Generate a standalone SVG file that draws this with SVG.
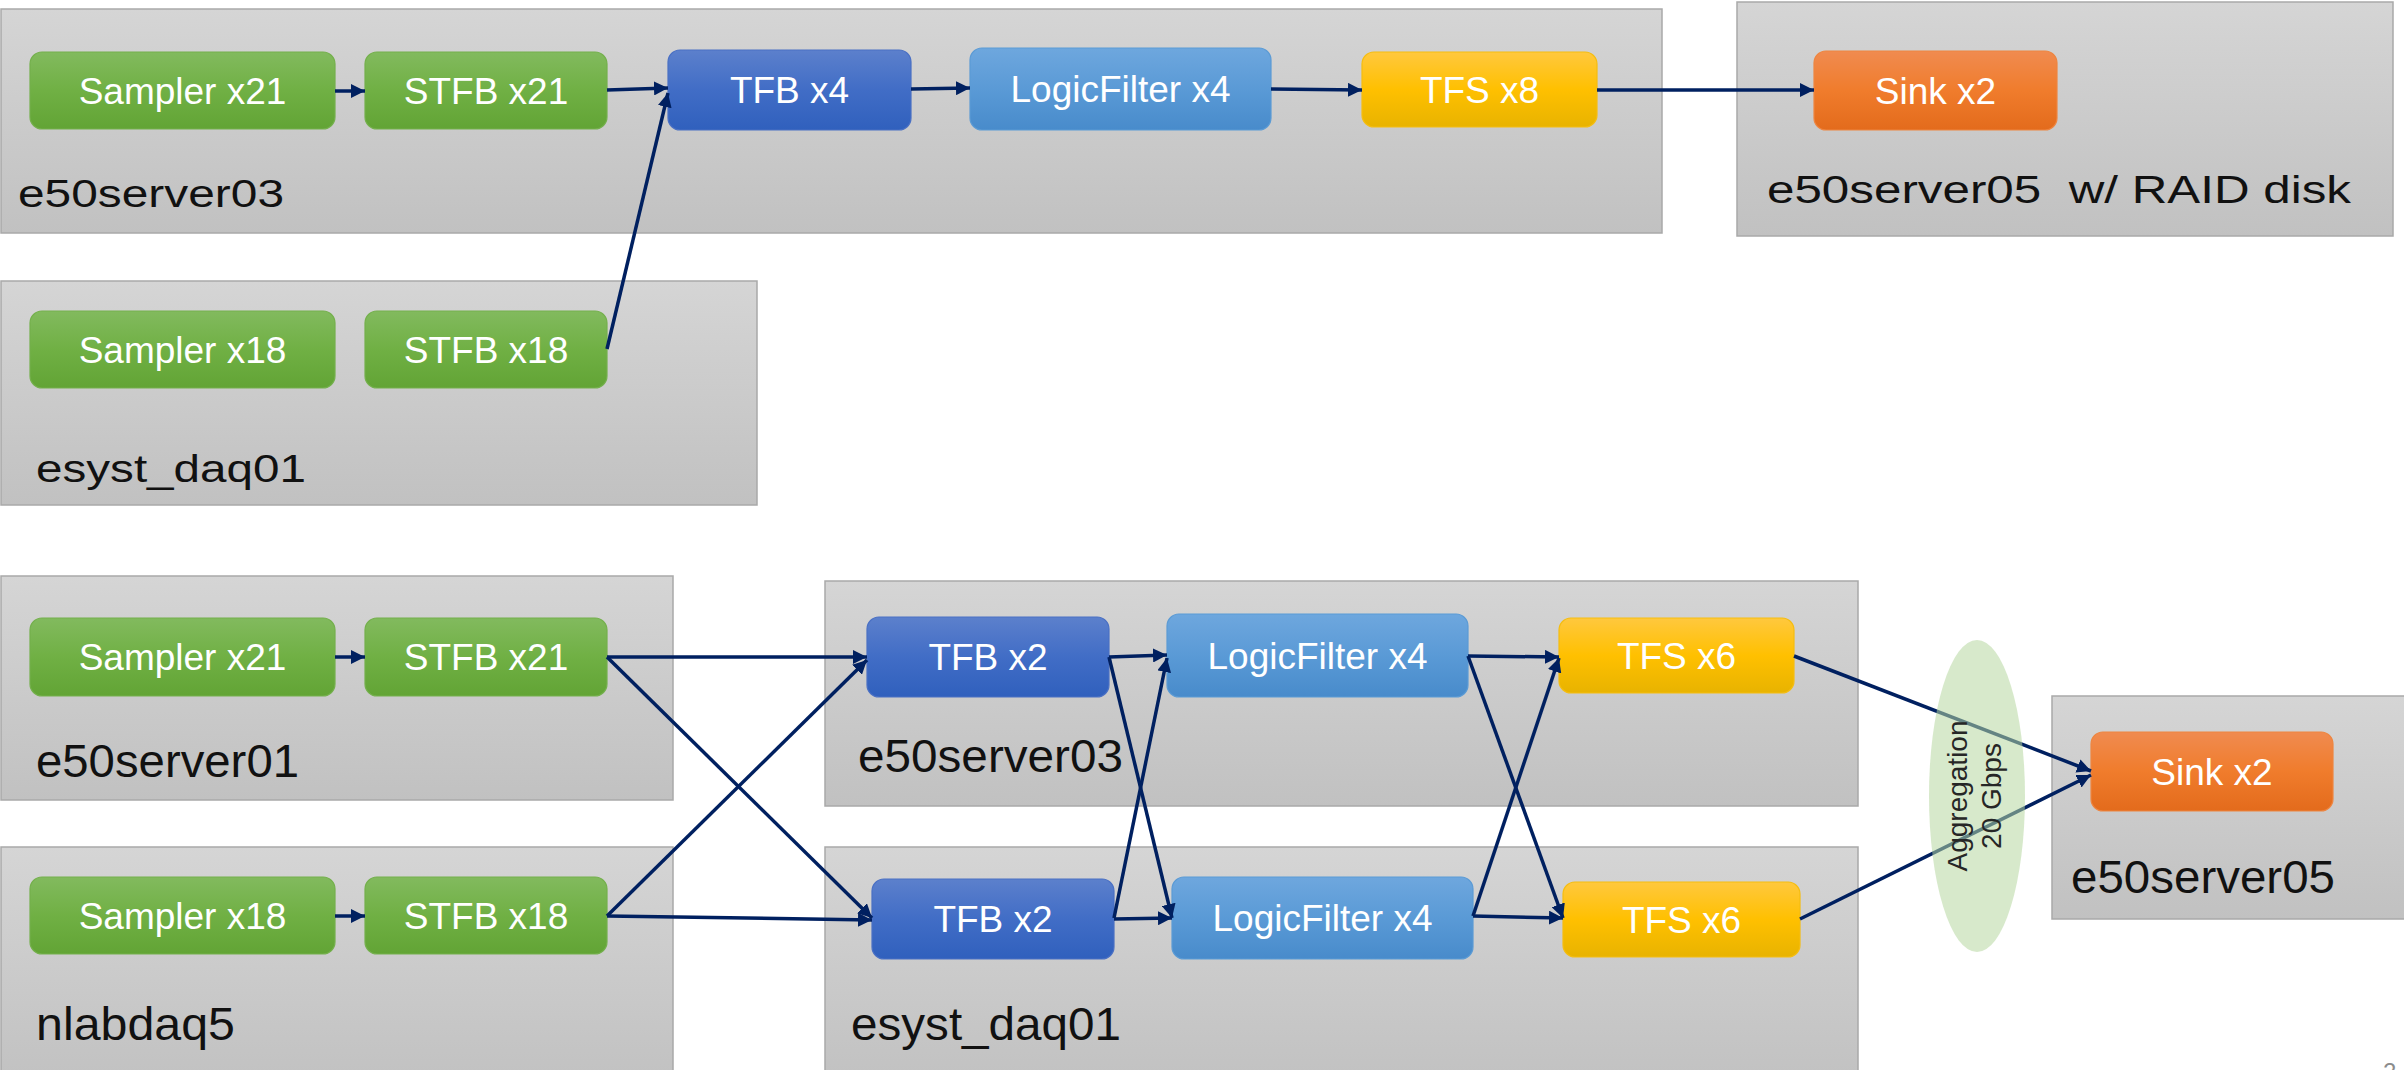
<svg xmlns="http://www.w3.org/2000/svg" width="2404" height="1070" viewBox="0 0 2404 1070">
  <style>
    .host { fill: url(#gHost); stroke: #a9a9a9; stroke-width: 1.5; }
    .hlabel { font-family: "Liberation Sans", Arial, sans-serif; fill: #111111; white-space: pre; }
    .hl-s { font-size: 38px; }
    .hl-l { font-size: 46px; }
    .node rect { stroke-width: 1.2; }
    .node text { font-family: "Liberation Sans", Arial, sans-serif; font-size: 37px; fill: #ffffff; text-anchor: middle; }
    .green rect { fill: url(#gGreen); stroke: #74b04c; }
    .tfb rect { fill: url(#gTfb); stroke: #4a70c4; }
    .lf rect { fill: url(#gLf); stroke: #5b9bd5; }
    .tfs rect { fill: url(#gTfs); stroke: #f5bd10; }
    .sink rect { fill: url(#gSink); stroke: #ee8540; }
    .conn line { stroke: #002060; stroke-width: 3.5; marker-end: url(#ah); }
    .agg text { font-family: "Liberation Sans", Arial, sans-serif; font-size: 28px; fill: #262626; text-anchor: middle; }
  </style>
  <defs>
    <linearGradient id="gHost" x1="0" y1="0" x2="0" y2="1">
      <stop offset="0" stop-color="#d5d5d5"/>
      <stop offset="1" stop-color="#c1c1c1"/>
    </linearGradient>
    <linearGradient id="gGreen" x1="0" y1="0" x2="0" y2="1">
      <stop offset="0" stop-color="#82ba5e"/>
      <stop offset="0.5" stop-color="#70b044"/>
      <stop offset="1" stop-color="#62a435"/>
    </linearGradient>
    <linearGradient id="gTfb" x1="0" y1="0" x2="0" y2="1">
      <stop offset="0" stop-color="#5c80cc"/>
      <stop offset="0.5" stop-color="#416dc6"/>
      <stop offset="1" stop-color="#3060bd"/>
    </linearGradient>
    <linearGradient id="gLf" x1="0" y1="0" x2="0" y2="1">
      <stop offset="0" stop-color="#6ea7de"/>
      <stop offset="0.5" stop-color="#5a9ad6"/>
      <stop offset="1" stop-color="#488bcb"/>
    </linearGradient>
    <linearGradient id="gTfs" x1="0" y1="0" x2="0" y2="1">
      <stop offset="0" stop-color="#ffc83e"/>
      <stop offset="0.5" stop-color="#ffc000"/>
      <stop offset="1" stop-color="#e8b300"/>
    </linearGradient>
    <linearGradient id="gSink" x1="0" y1="0" x2="0" y2="1">
      <stop offset="0" stop-color="#f08b50"/>
      <stop offset="0.5" stop-color="#f07c2c"/>
      <stop offset="1" stop-color="#e36b1c"/>
    </linearGradient>
    <marker id="ah" viewBox="0 0 10 10" refX="10" refY="5" markerWidth="4" markerHeight="4" orient="auto" markerUnits="strokeWidth">
      <path d="M0,0 L10,5 L0,10 z" fill="#002060"/>
    </marker>
  </defs>

  <!-- host machines -->
  <g id="hosts">
    <g id="host-top-e50server03">
      <rect class="host" x="1" y="9" width="1661" height="224"/>
      <text class="hlabel hl-s" x="18" y="207" textLength="266" lengthAdjust="spacingAndGlyphs">e50server03</text>
    </g>
    <g id="host-top-e50server05">
      <rect class="host" x="1737" y="2" width="656" height="234"/>
      <text class="hlabel hl-s" x="1767" y="203" textLength="584" lengthAdjust="spacingAndGlyphs">e50server05  w/ RAID disk</text>
    </g>
    <g id="host-top-esyst_daq01">
      <rect class="host" x="1" y="281" width="756" height="224"/>
      <text class="hlabel hl-s" x="36" y="482" textLength="270" lengthAdjust="spacingAndGlyphs">esyst_daq01</text>
    </g>
    <g id="host-e50server01">
      <rect class="host" x="1" y="576" width="672" height="224"/>
      <text class="hlabel hl-l" x="36" y="777" textLength="263" lengthAdjust="spacingAndGlyphs">e50server01</text>
    </g>
    <g id="host-nlabdaq5">
      <rect class="host" x="1" y="847" width="672" height="240"/>
      <text class="hlabel hl-l" x="36" y="1040" textLength="199" lengthAdjust="spacingAndGlyphs">nlabdaq5</text>
    </g>
    <g id="host-e50server03">
      <rect class="host" x="825" y="581" width="1033" height="225"/>
      <text class="hlabel hl-l" x="858" y="772" textLength="265" lengthAdjust="spacingAndGlyphs">e50server03</text>
    </g>
    <g id="host-esyst_daq01">
      <rect class="host" x="825" y="847" width="1033" height="240"/>
      <text class="hlabel hl-l" x="851" y="1040" textLength="270" lengthAdjust="spacingAndGlyphs">esyst_daq01</text>
    </g>
    <g id="host-e50server05">
      <rect class="host" x="2052" y="696" width="360" height="223"/>
      <text class="hlabel hl-l" x="2071" y="893" textLength="264" lengthAdjust="spacingAndGlyphs">e50server05</text>
    </g>
  </g>

  <!-- processes: upper chain -->
  <g id="t-sampler21" class="node green"><rect x="30" y="52" width="305" height="77" rx="12"/><text x="182.5" y="103.5">Sampler x21</text></g>
  <g id="t-stfb21" class="node green"><rect x="365" y="52" width="242" height="77" rx="12"/><text x="486" y="103.5">STFB x21</text></g>
  <g id="t-tfb4" class="node tfb"><rect x="668" y="50" width="243" height="80" rx="12"/><text x="789.5" y="103">TFB x4</text></g>
  <g id="t-lf4" class="node lf"><rect x="970" y="48" width="301" height="82" rx="12"/><text x="1120.5" y="102">LogicFilter x4</text></g>
  <g id="t-tfs8" class="node tfs"><rect x="1362" y="52" width="235" height="75" rx="12"/><text x="1479.5" y="102.5">TFS x8</text></g>
  <g id="t-sink2" class="node sink"><rect x="1814" y="51" width="243" height="79" rx="12"/><text x="1935.5" y="103.5">Sink x2</text></g>
  <g id="t-sampler18" class="node green"><rect x="30" y="311" width="305" height="77" rx="12"/><text x="182.5" y="362.5">Sampler x18</text></g>
  <g id="t-stfb18" class="node green"><rect x="365" y="311" width="242" height="77" rx="12"/><text x="486" y="362.5">STFB x18</text></g>

  <!-- processes: lower mesh -->
  <g id="b-sampler21" class="node green"><rect x="30" y="618" width="305" height="78" rx="12"/><text x="182.5" y="670">Sampler x21</text></g>
  <g id="b-stfb21" class="node green"><rect x="365" y="618" width="242" height="78" rx="12"/><text x="486" y="670">STFB x21</text></g>
  <g id="b-sampler18" class="node green"><rect x="30" y="877" width="305" height="77" rx="12"/><text x="182.5" y="928.5">Sampler x18</text></g>
  <g id="b-stfb18" class="node green"><rect x="365" y="877" width="242" height="77" rx="12"/><text x="486" y="928.5">STFB x18</text></g>
  <g id="b-tfb2a" class="node tfb"><rect x="867" y="617" width="242" height="80" rx="12"/><text x="988" y="670">TFB x2</text></g>
  <g id="b-lf4a" class="node lf"><rect x="1167" y="614" width="301" height="83" rx="12"/><text x="1317.5" y="668.5">LogicFilter x4</text></g>
  <g id="b-tfs6a" class="node tfs"><rect x="1559" y="618" width="235" height="75" rx="12"/><text x="1676.5" y="668.5">TFS x6</text></g>
  <g id="b-tfb2b" class="node tfb"><rect x="872" y="879" width="242" height="80" rx="12"/><text x="993" y="932">TFB x2</text></g>
  <g id="b-lf4b" class="node lf"><rect x="1172" y="877" width="301" height="82" rx="12"/><text x="1322.5" y="931">LogicFilter x4</text></g>
  <g id="b-tfs6b" class="node tfs"><rect x="1563" y="882" width="237" height="75" rx="12"/><text x="1681.5" y="932.5">TFS x6</text></g>
  <g id="b-sink2" class="node sink"><rect x="2091" y="732" width="242" height="79" rx="12"/><text x="2212" y="784.5">Sink x2</text></g>

  <!-- data flow -->
  <g id="connectors" class="conn">
    <line x1="335" y1="91" x2="365" y2="91"/>
    <line x1="607" y1="90" x2="668" y2="88"/>
    <line x1="607" y1="349" x2="668" y2="93"/>
    <line x1="911" y1="89" x2="970" y2="88"/>
    <line x1="1271" y1="89" x2="1362" y2="90"/>
    <line x1="1597" y1="90" x2="1814" y2="90"/>

    <line x1="335" y1="657" x2="365" y2="657"/>
    <line x1="335" y1="916" x2="365" y2="916"/>
    <line x1="607" y1="657" x2="867" y2="657"/>
    <line x1="607" y1="657" x2="872" y2="918"/>
    <line x1="607" y1="916" x2="867" y2="660"/>
    <line x1="607" y1="916" x2="872" y2="920"/>
    <line x1="1109" y1="657" x2="1167" y2="655"/>
    <line x1="1109" y1="657" x2="1172" y2="918"/>
    <line x1="1114" y1="918" x2="1167" y2="658"/>
    <line x1="1114" y1="919" x2="1172" y2="918"/>
    <line x1="1468" y1="656" x2="1559" y2="657"/>
    <line x1="1468" y1="656" x2="1563" y2="918"/>
    <line x1="1473" y1="916" x2="1559" y2="658"/>
    <line x1="1473" y1="916" x2="1563" y2="918"/>
    <line x1="1794" y1="656" x2="2091" y2="771"/>
    <line x1="1800" y1="919" x2="2091" y2="775"/>
  </g>

  <!-- link aggregation marker -->
  <g id="aggregation" class="agg">
    <ellipse cx="1977" cy="796" rx="48" ry="156" fill="#b6d7a0" fill-opacity="0.55"/>
    <g transform="translate(1977 796) rotate(-90)">
      <text x="0" y="-10">Aggregation</text>
      <text x="0" y="24">20 Gbps</text>
    </g>
  </g>

  <!-- page number -->
  <text x="2383" y="1080" font-family="Liberation Sans, Arial, sans-serif" font-size="24" fill="#8c8c8c">2</text>
</svg>
